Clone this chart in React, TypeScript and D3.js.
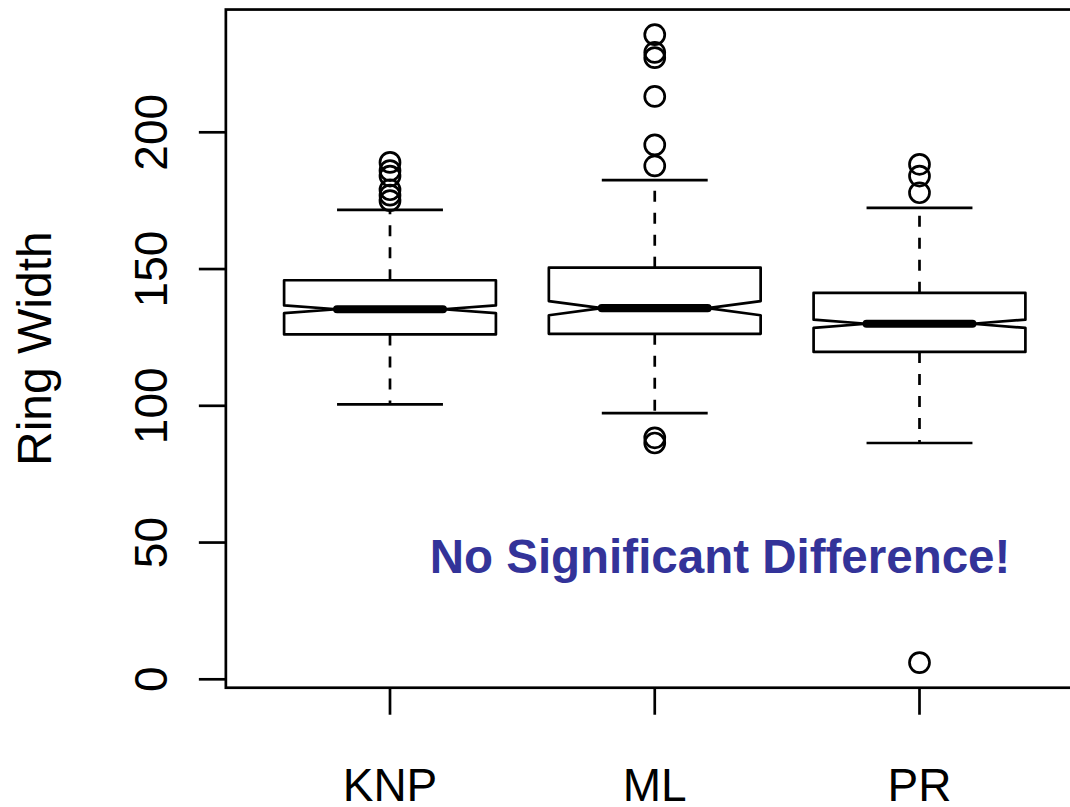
import React from 'react';
import * as d3 from 'd3';

// group names and box statistics
const groups = ['KNP', 'ML', 'PR'];
const lowerWhisker = [100.5, 97.3, 86.4];
const q1 = [126.1, 126.3, 119.7];
const median = [135.3, 135.7, 130.0];
const q3 = [145.9, 150.5, 141.3];
const upperWhisker = [171.6, 182.5, 172.4];
const notchHalf = [1.4, 2.6, 1.5];
const outliers = [
  [189, 186, 184, 179, 177, 175],
  [235.7, 229.2, 227.3, 213.1, 195.4, 187.7, 88.3, 86.4],
  [188.3, 184.0, 177.9, 6.1],
];
const yTicks = [0, 50, 100, 150, 200];
const yLabel = 'Ring Width';
const note = 'No Significant Difference!';

const W = 1070;
const H = 807;
const font = '"Liberation Sans", Arial, Helvetica, sans-serif';
const lw = 2.7;

const App = () => {
  // R style: 4% padding around the data range
  const all = [...lowerWhisker, ...upperWhisker, ...outliers.flat()];
  const lo = d3.min(all) as number;
  const hi = d3.max(all) as number;
  const pad = (hi - lo) * 0.04;

  const y = d3.scaleLinear().domain([0, 200]).range([679.3, 132.3]);
  const x = d3.scaleLinear().domain([1, 3]).range([390, 919.5]);

  const top = y(hi + pad);
  const bottom = y(lo - pad);
  const left = x(0.38);
  const right = x(3.62);

  const boxHalf = x(1.4) - x(1);
  const capHalf = x(1.2) - x(1);

  return (
    <div style={{ position: 'absolute', left: 0, top: 0 }}>
      <svg width={W} height={H} style={{ display: 'block', background: '#fff' }}>
        <g fill="none" stroke="#000" strokeWidth={lw}>
          {groups.map((g, i) => {
            const cx = x(i + 1);
            const l = cx - boxHalf;
            const r = cx + boxHalf;
            const pts: [number, number][] = [
              [l, y(q1[i])],
              [l, y(median[i] - notchHalf[i])],
              [cx - boxHalf / 2, y(median[i])],
              [l, y(median[i] + notchHalf[i])],
              [l, y(q3[i])],
              [r, y(q3[i])],
              [r, y(median[i] + notchHalf[i])],
              [cx + boxHalf / 2, y(median[i])],
              [r, y(median[i] - notchHalf[i])],
              [r, y(q1[i])],
            ];
            return (
              <g key={g}>
                <line x1={cx} x2={cx} y1={y(q3[i])} y2={y(upperWhisker[i])} strokeDasharray="11,11" />
                <line x1={cx} x2={cx} y1={y(q1[i])} y2={y(lowerWhisker[i])} strokeDasharray="11,11" />
                <line x1={cx - capHalf} x2={cx + capHalf} y1={y(upperWhisker[i])} y2={y(upperWhisker[i])} />
                <line x1={cx - capHalf} x2={cx + capHalf} y1={y(lowerWhisker[i])} y2={y(lowerWhisker[i])} />
                <path d={d3.line()(pts) + 'Z'} fill="#fff" strokeLinejoin="round" />
                <line
                  x1={cx - boxHalf / 2}
                  x2={cx + boxHalf / 2}
                  y1={y(median[i])}
                  y2={y(median[i])}
                  strokeWidth={lw * 3}
                  strokeLinecap="round"
                />
                {outliers[i].map((v, j) => (
                  <circle key={j} cx={cx} cy={y(v)} r={10} />
                ))}
              </g>
            );
          })}

          {/* plot frame */}
          <rect x={left} y={top} width={right - left} height={bottom - top} />

          {/* y axis ticks */}
          {yTicks.map((t) => (
            <line key={t} x1={left - 27} x2={left} y1={y(t)} y2={y(t)} />
          ))}
          {/* x axis ticks */}
          {groups.map((g, i) => (
            <line key={g} x1={x(i + 1)} x2={x(i + 1)} y1={bottom} y2={bottom + 27} />
          ))}
        </g>

        <g fontFamily={font} fill="#000">
          {yTicks.map((t) => (
            <text key={t} transform={`translate(167,${y(t)}) rotate(-90)`} textAnchor="middle" fontSize={46}>
              {t}
            </text>
          ))}
          {groups.map((g, i) => (
            <text key={g} x={x(i + 1)} y={801} textAnchor="middle" fontSize={46}>
              {g}
            </text>
          ))}
          <text transform={`translate(51,${(top + bottom) / 2}) rotate(-90)`} textAnchor="middle" fontSize={48}>
            {yLabel}
          </text>
          <text x={720} y={573} textAnchor="middle" fontSize={47.5} fontWeight="bold" fill="#333399">
            {note}
          </text>
        </g>
      </svg>
    </div>
  );
};

export default App;
